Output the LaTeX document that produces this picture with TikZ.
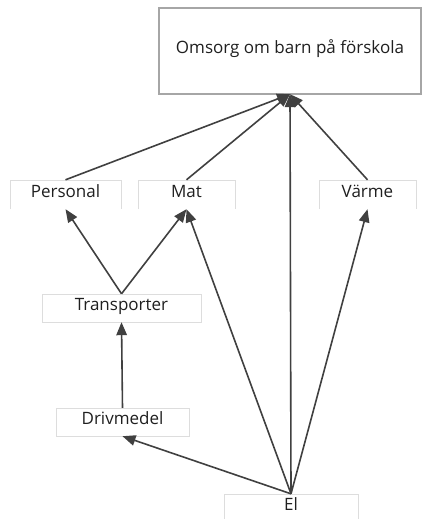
\documentclass[tikz,border=0pt]{standalone}
\usepackage{fontspec}
\setmainfont{Open Sans}
\usetikzlibrary{arrows.meta}
\definecolor{frameColorA}{HTML}{A6A6A6}
\definecolor{frameColorB}{HTML}{DDDDDD}
\definecolor{linkColor}{HTML}{404040}
\definecolor{labelTextColor}{HTML}{1F1F1F}
\def\textA{Omsorg om barn på förskola}
\def\textB{Personal}
\def\textC{Mat}
\def\textD{Värme}
\def\textE{Transporter}
\def\textF{Drivmedel}
\def\textG{El}

\begin{document}
\begin{tikzpicture}[x=1bp,y=-1bp,
  boxnode/.style={rectangle, inner sep=0pt, text=labelTextColor,
    font=\fontsize{17bp}{20bp}\selectfont, text height=0.8em, text depth=0.2em},
  link/.style={color=linkColor, line width=1.6bp, -{Triangle[length=13bp,width=10.5bp]}}]

% page size
\useasboundingbox (0, 0) rectangle (423, 519);
\clip (0, 0) rectangle (423, 519);

% node layer
\begin{scope}
\node[boxnode, minimum width=262bp, minimum height=86bp] (omsorg) at (290, 51) {\textA};
\node[boxnode, minimum width=111bp, minimum height=29bp] (personal) at (65.5, 194.5) {\textB};
\node[boxnode, minimum width=97bp, minimum height=29bp] (mat) at (186.5, 194.5) {\textC};
\node[boxnode, minimum width=97bp, minimum height=29bp] (varme) at (367.5, 194.5) {\textD};
\node[boxnode, minimum width=159bp, minimum height=28bp] (transporter) at (121.5, 308) {\textE};
\node[boxnode, minimum width=133bp, minimum height=28bp] (drivmedel) at (122.5, 422) {\textF};
\node[boxnode, minimum width=134bp, minimum height=28bp] (el) at (291, 508) {\textG};
\end{scope}

% frame layer
\begin{scope}
\draw[frameColorA, line width=1.5bp] (omsorg.south west) rectangle (omsorg.north east);
\foreach \n in {transporter, drivmedel}
  \draw[frameColorB] (\n.south west) rectangle (\n.north east);
\foreach \n in {personal, mat, varme, el}
  \draw[frameColorB] (\n.south west) -- (\n.north west) -- (\n.north east) -- (\n.south east);
\end{scope}

% link layer
\begin{scope}
\draw[link] (personal.north) -- (omsorg.south);
\draw[link] (mat.north) -- (omsorg.south);
\draw[link] (varme.north) -- (omsorg.south);
\draw[link] (el.north) -- (omsorg.south);
\draw[link] (transporter.north) -- (personal.south);
\draw[link] (transporter.north) -- (mat.south);
\draw[link] (drivmedel.north) -- (transporter.south);
\draw[link] (el.north) -- (drivmedel.south);
\draw[link] (el.north) -- (mat.south);
\draw[link] (el.north) -- (varme.south);
\end{scope}

\end{tikzpicture}
\end{document}
